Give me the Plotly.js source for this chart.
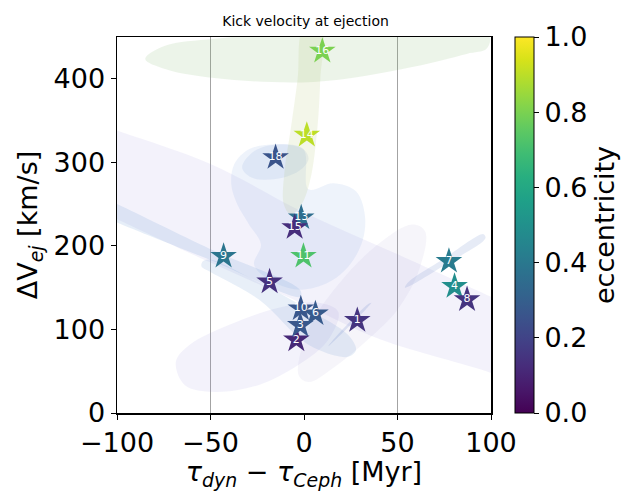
<!DOCTYPE html>
<html>
<head>
<meta charset="utf-8">
<script src="https://cdn.plot.ly/plotly-3.0.1.min.js"></script>
<style>html,body{margin:0;padding:0;background:#fff;}#chart{width:633px;height:491px;}</style>
</head>
<body>
<div id="chart"></div>
<script>
// Ejected stars
const starIds = [1, 2, 3, 4, 5, 6, 7, 8, 9, 10, 11, 13, 14, 15, 16, 18];
const dtMyr   = [28.5, -4.1, -2, 80.5, -18.4, 6.1, 77.5, 87.2, -43, -1.7, -0.3, -1.5, 1.5, -5, 9.8, -15.2];
const dvKms   = [110.8, 87.6, 104.8, 151.6, 157, 118.8, 181.6, 135.7, 187.6, 124.8, 187.6, 233.7, 332.5, 222, 433, 305.8];
const eccentricity = [0.15, 0.11, 0.27, 0.49, 0.14, 0.28, 0.41, 0.15, 0.39, 0.27, 0.72, 0.36, 0.9, 0.13, 0.8, 0.26];

// Reference epochs (vertical lines)
const refLines = [-50, 50];

// Background density regions (outlines in data units)
const regGreenX = [-84.9, -74.3, -47.9, -2.9, 50, 87, 99.2, 97.6, 87, 57.9, 5, -47.9, -74.3];
const regGreenY = [423.8, 439.4, 447.8, 456.2, 459.8, 458.6, 450.2, 435.8, 429.8, 414.2, 396.2, 401, 411.8];
const regYellowX = [-0.3, 9.3, 8.7, 7.1, 3.4, -1.3, -7.1, -10.8, -10.3, -7.1, -3.4];
const regYellowY = [459.8, 459.8, 399.8, 339.7, 279.7, 249.7, 237.7, 249.7, 291.7, 339.7, 399.8];
const regBlueX = [-37.3, -29.4, -13.5, -0.3, 2.4, 15.6, 27.8, 32.5, 31.5, 24.6, 13, -2.9, -18.8, -26.7, -23, -29.4, -35.7, -38.9];
const regBlueY = [297.7, 315.7, 321.7, 315.7, 267.7, 274.9, 265.3, 237.7, 207.7, 177.7, 156.1, 147.7, 159.7, 177.7, 201.7, 225.7, 249.7, 273.7];
const regBlue2X = [-33.1, -26.7, -13.5, -0.3, 2.4, -2.9, -16.1, -28.3];
const regBlue2Y = [294.1, 313.3, 321.7, 315.7, 303.7, 289.3, 279.7, 282.1];
const regBandX = [-112, -100, -50, 0, 50, 100, 112, 112, 100, 41, 0, -50, -100, -112];
const regBandY = [348, 338, 298, 240, 190, 139, 126, 36, 48, 88, 130, 180, 232, 244];
const regLowX = [-68.5, -61.1, -39.9, -13.5, 7.7, 18.3, 13, -2.9, -24.1, -47.9, -63.8];
const regLowY = [61.2, 81.6, 105.6, 126, 132, 121.2, 87.6, 57.6, 33.6, 25.2, 33.6];
const regRightX = [-2.9, 2.4, 18.3, 39.4, 57.9, 64.8, 61.6, 50, 34.1, 15.6, 2.4];
const regRightY = [45.6, 99.6, 153.7, 201.7, 225.7, 217.3, 171.7, 123.6, 87.6, 54, 37.2];
const streak1X = [-112, -100, -50, -2, -2, -50, -100, -112];
const streak1Y = [262, 250, 196, 147, 139, 183, 228, 240];
const streak2X = [-54.2, -50.5, -24.1, 2.4, 23.5, 27.8, 23.5, 2.4, -24.1, -50.5, -54.8];
const streak2Y = [181.3, 183.7, 156.1, 123.6, 93.6, 75.6, 67.2, 81.6, 135.7, 169.3, 175.3];
const streak3X = [54, 56, 75, 96, 97, 76];
const streak3Y = [150, 157, 185, 214, 209, 178];
const streak4X = [13, 15, 34, 36, 33];
const streak4Y = [80, 86, 130, 132, 124];

function region(xs, ys, color) {
  return {
    x: xs.concat([xs[0]]), y: ys.concat([ys[0]]),
    type: 'scatter', mode: 'lines', fill: 'toself', fillcolor: color,
    line: {width: 0, shape: 'spline', smoothing: 1, color: 'rgba(0,0,0,0)'},
    hoverinfo: 'skip', showlegend: false
  };
}

const traces = [
  region(regBandX, regBandY, 'rgba(150,140,215,0.11)'),
  region(regLowX, regLowY, 'rgba(150,140,215,0.11)'),
  region(regRightX, regRightY, 'rgba(160,140,205,0.09)'),
  region(streak1X, streak1Y, 'rgba(100,150,210,0.16)'),
  region(streak2X, streak2Y, 'rgba(100,150,210,0.15)'),
  region(streak3X, streak3Y, 'rgba(100,130,200,0.16)'),
  region(streak4X, streak4Y, 'rgba(100,130,200,0.18)'),
  region(regBlueX, regBlueY, 'rgba(100,150,215,0.11)'),
  region(regBlue2X, regBlue2Y, 'rgba(100,140,205,0.11)'),
  region(regGreenX, regGreenY, 'rgba(120,180,100,0.14)'),
  region(regYellowX, regYellowY, 'rgba(170,190,100,0.14)'),
  {
    x: dtMyr, y: dvKms, text: starIds.map(String),
    type: 'scatter', mode: 'markers+text',
    textposition: 'middle center',
    textfont: {family: 'DejaVu Sans', size: 11, color: 'white'},
    marker: {
      symbol: 'star', size: 20, color: eccentricity,
      colorscale: 'Viridis', cmin: 0, cmax: 1,
      line: {width: 0},
      showscale: true,
      colorbar: {
        x: 1.0637, xanchor: 'left', xpad: 0, ypad: 0,
        y: 0.5, yanchor: 'middle', len: 1, lenmode: 'fraction',
        thickness: 19, outlinewidth: 1, outlinecolor: 'black',
        ticks: 'outside', ticklen: 5, tickwidth: 1, tickcolor: 'black',
        tickvals: [0, 0.2, 0.4, 0.6, 0.8, 1.0],
        ticktext: ['0.0', '0.2', '0.4', '0.6', '0.8', '1.0'],
        tickfont: {family: 'DejaVu Sans', size: 27, color: 'black'},
        title: {text: 'eccentricity', side: 'right', font: {family: 'DejaVu Sans', size: 27, color: 'black'}}
      }
    },
    hoverinfo: 'skip', showlegend: false
  }
];

const layout = {
  width: 633, height: 491,
  margin: {l: 117, r: 139, t: 37, b: 78, pad: 0},
  paper_bgcolor: 'white', plot_bgcolor: 'white',
  font: {family: 'DejaVu Sans', color: 'black'},
  title: {text: 'Kick velocity at ejection', font: {family: 'DejaVu Sans', size: 14, color: 'black'},
          x: 0.4827, xanchor: 'center', y: 0.957, yanchor: 'middle', xref: 'container', yref: 'container'},
  xaxis: {
    range: [-100, 100], showgrid: false, zeroline: false,
    showline: true, mirror: true, linecolor: 'black', linewidth: 1.5,
    ticks: 'outside', ticklen: 5, tickwidth: 1, tickcolor: 'black',
    tickvals: [-100, -50, 0, 50, 100], ticktext: ['\u2212100', '\u221250', '0', '50', '100'],
    tickfont: {size: 27},
    title: {text: '<i>\u03C4</i><sub><i>dyn</i></sub> \u2212 <i>\u03C4</i><sub><i>Ceph</i></sub> [Myr]', font: {size: 27}, standoff: 6},
    automargin: false
  },
  yaxis: {
    range: [0, 450], showgrid: false, zeroline: false,
    showline: true, mirror: true, linecolor: 'black', linewidth: 1.5,
    ticks: 'outside', ticklen: 5, tickwidth: 1, tickcolor: 'black',
    tickvals: [0, 100, 200, 300, 400],
    tickfont: {size: 27},
    title: {text: '\u0394V<sub><i>ej</i></sub> [km/s]', font: {size: 27}, standoff: 8},
    automargin: false
  },
  shapes: refLines.map(v => ({
    type: 'line', xref: 'x', yref: 'paper', x0: v, x1: v, y0: 0, y1: 1,
    line: {color: '#8c8c8c', width: 0.8}, layer: 'below'
  }))
};

Plotly.newPlot('chart', traces, layout, {displayModeBar: false, staticPlot: true});
</script>
</body>
</html>
